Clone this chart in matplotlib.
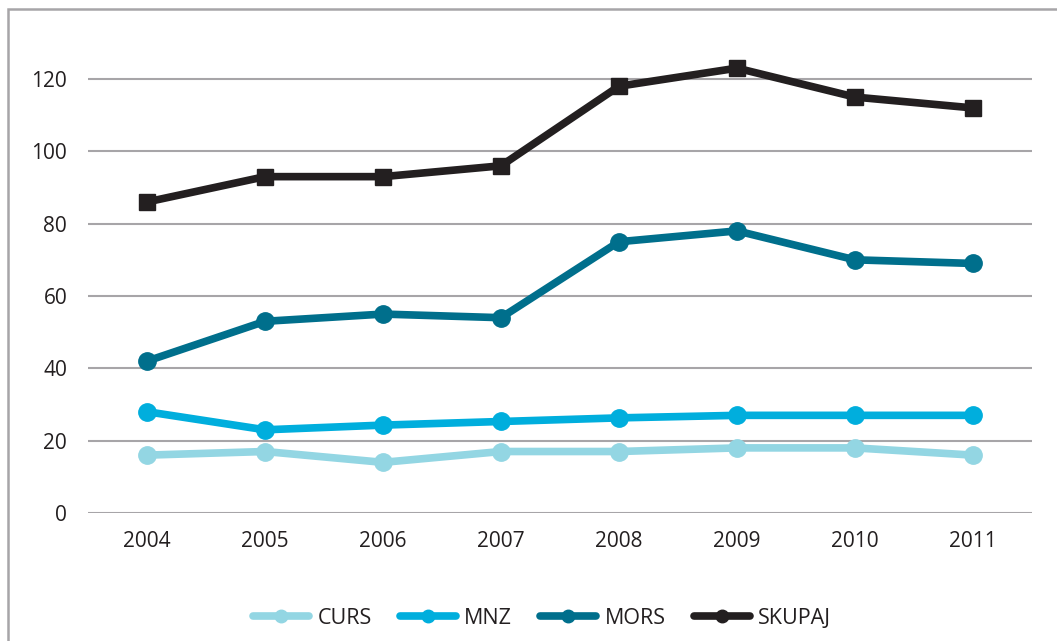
import matplotlib.pyplot as plt
from matplotlib.lines import Line2D
from matplotlib.patches import Rectangle

plt.rcParams['font.family'] = ['Open Sans', 'DejaVu Sans']

# Podatki
leta = [2004, 2005, 2006, 2007, 2008, 2009, 2010, 2011]
curs = [16, 17, 14, 17, 17, 18, 18, 16]
mnz = [28, 23, 24.3, 25.3, 26.3, 27, 27, 27]
mors = [42, 53, 55, 54, 75, 78, 70, 69]
skupaj = [86, 93, 93, 96, 118, 123, 115, 112]

serije = [
    ('CURS', curs, '#93d6e3', 'o'),
    ('MNZ', mnz, '#00aedd', 'o'),
    ('MORS', mors, '#006f8c', 'o'),
    ('SKUPAJ', skupaj, '#231f20', 's'),
]

fig = plt.figure(figsize=(10.57, 6.41), dpi=100)
ax = fig.add_axes([0.0833, 0.1997, 0.8930, 0.738])

# okvir
fig.patches.append(Rectangle((8 / 1057, -0.1), 1.2, 1 - 9 / 641 + 0.1,
                             transform=fig.transFigure, fill=False,
                             edgecolor='#a7a5a8', linewidth=1.8))

for ime, vrednosti, barva, oznaka in serije:
    ax.plot(leta, vrednosti, color=barva, linewidth=5.5, marker=oznaka,
            markersize=12.5 if oznaka == 'o' else 11.5, zorder=3,
            solid_joinstyle='miter', solid_capstyle='round')

ax.set_xlim(2003.5, 2011.5)
ax.set_ylim(0, 130.8)
ax.set_yticks([0, 20, 40, 60, 80, 100, 120])
ax.set_xticks(leta)
ax.grid(axis='y', color='#a7a5a8', linewidth=1.5)
ax.set_axisbelow(True)
for s in ax.spines.values():
    s.set_visible(False)
ax.tick_params(axis='both', length=0, labelsize=15, colors='#231f20')
ax.tick_params(axis='y', pad=15)
ax.tick_params(axis='x', pad=13)

rocke = [Line2D([], [], color=b, linewidth=5.5, marker='o', markersize=9,
                solid_capstyle='round')
         for _, _, b, _ in serije]
fig.legend(rocke, [s[0] for s in serije], loc='center',
           bbox_to_anchor=(542 / 1057, 1 - 618 / 641), ncol=4, frameon=False,
           fontsize=15.5, handlelength=2.6, columnspacing=1.3,
           handletextpad=0.4, labelcolor='#231f20')

plt.savefig('out.png', dpi=100)
